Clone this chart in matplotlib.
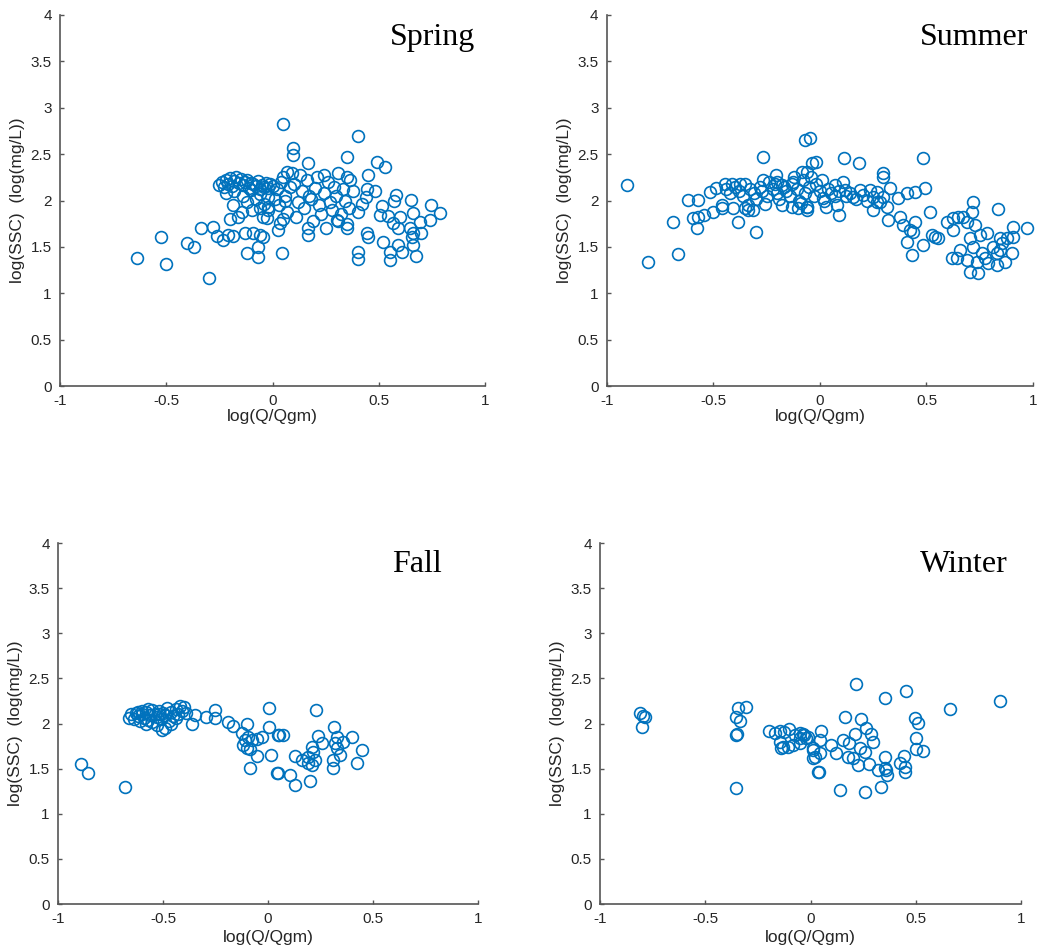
import numpy as np
import matplotlib
matplotlib.use('Agg')
import matplotlib.pyplot as plt

# ---- data ----
spring_x = [-0.637, -0.526, -0.501, -0.404, -0.368, -0.299, -0.338, -0.281, -0.263, -0.232,
            -0.208, -0.184, -0.129, -0.090, -0.059, -0.043, -0.067, -0.067, -0.121, 0.043,
            -0.184, -0.200, -0.161, -0.145, -0.098, -0.059, -0.020, -0.027, -0.043, 0.027,
            0.035, 0.051, 0.098, 0.098, 0.067, 0.168, 0.401, 0.349, 0.490, 0.529,
            0.451, 0.310, 0.349, 0.365, 0.443, 0.482, 0.581, 0.652, 0.746, 0.786,
            0.662, 0.694, 0.741, 0.514, 0.506, 0.545, 0.569, 0.592, 0.647, 0.663,
            0.655, 0.521, 0.592, 0.608, 0.553, 0.553, 0.663, 0.675, 0.443, 0.451,
            0.404, 0.404, 0.349, 0.302, 0.168, 0.168,
            -0.25, -0.24, -0.23, -0.22, -0.21, -0.20, -0.19, -0.18, -0.17, -0.16,
            -0.15, -0.14, -0.13, -0.12, -0.11, -0.10, -0.09, -0.08, -0.07, -0.06,
            -0.05, -0.04, -0.03, -0.02, -0.01, 0.00,
            -0.22, -0.18, -0.14, -0.10, -0.06, -0.02, -0.12, -0.08, -0.04, 0.06,
            0.02, 0.04, 0.06, 0.08, 0.10, 0.12, 0.14, 0.16, 0.18, 0.20,
            0.22, 0.24, 0.26, 0.28, 0.30, 0.32, 0.34, 0.36, 0.38, 0.40,
            0.42, 0.44, 0.03, 0.07, 0.11, 0.15, 0.19, 0.23, 0.27, 0.31,
            0.35, 0.13, 0.09, 0.05, 0.01, 0.17, 0.21, 0.25, 0.29, 0.33,
            0.05, -0.02, 0.24, 0.60, 0.70, 0.57]
spring_y = [1.377, 1.610, 1.312, 1.539, 1.502, 1.165, 1.703, 1.711, 1.617, 1.574,
            1.628, 1.617, 1.646, 1.646, 1.628, 1.610, 1.502, 1.388, 1.431, 1.431,
            1.951, 1.797, 1.825, 1.879, 1.898, 1.916, 1.933, 1.808, 1.825, 1.682,
            1.754, 2.825, 2.563, 2.491, 2.311, 2.401, 2.699, 2.466, 2.418, 2.364,
            2.275, 2.300, 2.257, 2.221, 2.121, 2.106, 2.059, 2.005, 1.951, 1.868,
            1.862, 1.771, 1.790, 1.941, 1.844, 1.833, 1.754, 1.700, 1.700, 1.646,
            1.610, 1.556, 1.520, 1.448, 1.448, 1.358, 1.520, 1.402, 1.646, 1.610,
            1.448, 1.366, 1.700, 1.790, 1.700, 1.628,
            2.17, 2.20, 2.15, 2.22, 2.18, 2.24, 2.16, 2.21, 2.25, 2.19,
            2.23, 2.17, 2.20, 2.22, 2.14, 2.19, 2.18, 2.16, 2.21, 2.12,
            2.17, 2.15, 2.19, 2.13, 2.18, 2.16,
            2.08, 2.10, 2.05, 2.11, 2.07, 2.04, 1.98, 2.02, 1.96, 1.99,
            2.12, 2.20, 2.05, 2.15, 2.18, 1.98, 2.10, 2.22, 2.02, 2.14,
            1.95, 2.08, 2.20, 1.90, 2.05, 1.85, 2.00, 1.92, 2.10, 1.88,
            1.96, 2.04, 1.95, 1.88, 1.82, 1.92, 1.78, 1.85, 1.98, 1.78,
            1.75, 2.28, 2.30, 2.25, 2.02, 2.05, 2.25, 1.70, 2.15, 2.12,
            1.80, 1.90, 2.28, 1.82, 1.65, 2.00]

summer_x = [-0.905, -0.806, -0.668, -0.689, -0.621, -0.571, -0.579, -0.595, -0.571, -0.545,
            -0.501, -0.461, -0.461, -0.516, -0.488, -0.446, -0.415, -0.376, -0.407, -0.383,
            -0.352, -0.337, -0.313, -0.300, -0.269, -0.266, -0.207, -0.203, -0.180, -0.133,
            -0.102, -0.062, -0.125, -0.086, -0.062, -0.070, -0.047, -0.039, -0.019, 0.113,
            0.183, 0.485, 0.294, 0.297, 0.070, 0.110, 0.117, 0.016, 0.078, 0.090,
            -0.062, 0.156, 0.188, 0.235, 0.266, 0.297, 0.329, 0.282, 0.250, 0.313,
            0.321, 0.368, 0.407, 0.446, 0.493, 0.376, 0.391, 0.446, 0.423, 0.438,
            0.407, 0.485, 0.430, 0.516, 0.524, 0.540, 0.555, 0.595, 0.626, 0.650,
            0.673, 0.720, 0.712, 0.689, 0.728, 0.626, 0.834, 0.970, 0.908, 0.908,
            0.877, 0.900, 0.704, 0.751, 0.783, 0.720, 0.759, 0.775, 0.814, 0.845,
            0.853, 0.830, 0.869, 0.830, 0.790, 0.657, 0.618, 0.642, 0.689, 0.704,
            0.743, 0.736, 0.845,
            -0.44, -0.42, -0.40, -0.38, -0.36, -0.35, -0.33, -0.31, -0.30, -0.28,
            -0.27, -0.25, -0.24, -0.22, -0.20, -0.19, -0.17, -0.16, -0.14, -0.13,
            -0.11, -0.10, -0.08, -0.07, -0.05, -0.04, -0.03, -0.02, 0.00, 0.01,
            0.02, 0.04, 0.05, 0.07, 0.09, 0.12, 0.14, 0.17, 0.20, 0.22,
            0.25, 0.27, -0.34, -0.26, -0.18, -0.09, -0.06, 0.03, -0.12, -0.21]
summer_y = [2.167, 1.340, 1.420, 1.771, 2.005, 2.005, 1.700, 1.808, 1.825, 1.844,
            1.879, 1.916, 1.951, 2.095, 2.131, 2.178, 2.178, 2.178, 1.916, 1.771,
            1.916, 1.898, 1.898, 1.664, 2.466, 2.221, 2.275, 2.203, 2.167, 1.933,
            1.916, 1.933, 2.203, 2.311, 2.311, 2.652, 2.671, 2.401, 2.418, 2.455,
            2.401, 2.455, 2.293, 2.257, 2.167, 2.203, 2.113, 2.024, 1.951, 1.844,
            1.927, 2.041, 2.113, 2.113, 2.095, 2.041, 2.131, 1.987, 1.898, 1.933,
            1.790, 2.024, 2.078, 2.095, 2.131, 1.825, 1.736, 1.771, 1.682, 1.664,
            1.556, 1.520, 1.412, 1.879, 1.628, 1.610, 1.592, 1.771, 1.808, 1.825,
            1.825, 1.987, 1.879, 1.771, 1.736, 1.682, 1.905, 1.700, 1.718, 1.610,
            1.592, 1.431, 1.592, 1.628, 1.646, 1.502, 1.431, 1.377, 1.502, 1.592,
            1.539, 1.431, 1.340, 1.305, 1.323, 1.466, 1.377, 1.377, 1.358, 1.232,
            1.215, 1.340, 1.466,
            2.12, 2.08, 2.15, 2.10, 2.05, 2.18, 2.12, 2.08, 2.02, 2.15,
            2.10, 2.05, 2.20, 2.12, 2.08, 2.02, 2.15, 2.10, 2.05, 2.18,
            2.12, 2.00, 2.22, 2.08, 2.15, 2.25, 2.05, 2.18, 2.10, 2.22,
            2.00, 2.12, 2.08, 2.05, 2.10, 2.05, 2.08, 2.02, 2.06, 2.00,
            2.04, 1.98, 1.95, 1.96, 1.95, 1.97, 1.90, 1.93, 2.25, 2.18]

fall_x = [-0.890, -0.856, -0.681, -0.348, -0.363, -0.297, -0.252, -0.252, -0.506, -0.189,
          -0.165, -0.101, -0.125, -0.110, -0.094, -0.078, -0.054, -0.030, -0.118, -0.101,
          -0.086, -0.054, -0.086, 0.006, 0.006, 0.013, 0.041, 0.049, 0.229, 0.054,
          0.073, 0.046, 0.105, 0.129, 0.200, 0.129, 0.160, 0.192, 0.208, 0.216,
          0.192, 0.208, 0.224, 0.240, 0.256, 0.314, 0.327, 0.319, 0.327, 0.343,
          0.308, 0.308, 0.359, 0.399, 0.446, 0.422,
          -0.65, -0.64, -0.63, -0.62, -0.61, -0.60, -0.59, -0.58, -0.57, -0.56,
          -0.55, -0.55, -0.54, -0.53, -0.52, -0.51, -0.50, -0.49, -0.48, -0.47,
          -0.46, -0.45, -0.44, -0.43, -0.42, -0.41, -0.40, -0.39, -0.58, -0.53,
          -0.49, -0.46, -0.60, -0.57, -0.62, -0.66, -0.52, -0.44]
fall_y = [1.551, 1.455, 1.293, 2.094, 1.994, 2.076, 2.150, 2.058, 1.928, 2.020,
          1.972, 1.994, 1.891, 1.817, 1.854, 1.817, 1.825, 1.847, 1.762, 1.725,
          1.714, 1.643, 1.510, 2.168, 1.965, 1.647, 1.448, 1.873, 2.150, 1.873,
          1.873, 1.448, 1.429, 1.319, 1.366, 1.643, 1.596, 1.632, 1.743, 1.688,
          1.559, 1.540, 1.596, 1.861, 1.781, 1.965, 1.854, 1.781, 1.725, 1.651,
          1.596, 1.510, 1.798, 1.847, 1.706, 1.566,
          2.10, 2.05, 2.12, 2.08, 2.03, 2.11, 2.06, 2.13, 2.04, 2.09,
          2.15, 2.02, 2.11, 2.07, 2.14, 2.05, 2.12, 2.09, 2.17, 2.03,
          2.13, 2.08, 2.16, 2.11, 2.19, 2.14, 2.18, 2.12, 2.00, 1.98,
          1.95, 2.00, 2.14, 2.16, 2.13, 2.06, 2.10, 2.06]

winter_x = [-0.812, -0.797, -0.784, -0.800, -0.345, -0.305, -0.353, -0.337, -0.353, -0.350,
            -0.353, -0.195, -0.171, -0.147, -0.124, -0.100, -0.076, -0.052, -0.029, -0.013,
            -0.147, -0.131, -0.139, -0.108, -0.084, -0.052, 0.011, 0.011, 0.035, -0.052,
            0.217, 0.356, 0.455, 0.664, 0.901, 0.165, 0.241, 0.494, 0.510, 0.499,
            0.499, 0.533, -0.036, -0.021, 0.051, 0.046, 0.011, 0.019, 0.046, 0.098,
            0.119, 0.154, 0.209, 0.185, 0.265, 0.288, 0.296, 0.233, 0.257, 0.177,
            0.201, 0.225, 0.280, 0.040, 0.141, 0.257, 0.333, 0.356, 0.320, 0.352,
            0.362, 0.359, 0.423, 0.442, 0.451, 0.451]
winter_y = [2.120, 2.083, 2.069, 1.958, 2.168, 2.180, 2.069, 2.031, 1.873, 1.880,
            1.282, 1.920, 1.891, 1.920, 1.909, 1.936, 1.873, 1.891, 1.873, 1.854,
            1.798, 1.743, 1.725, 1.743, 1.762, 1.781, 1.706, 1.614, 1.466, 1.836,
            2.434, 2.286, 2.364, 2.161, 2.253, 2.076, 2.050, 2.058, 2.002, 1.843,
            1.714, 1.695, 1.880, 1.836, 1.920, 1.817, 1.725, 1.632, 1.670, 1.762,
            1.670, 1.817, 1.880, 1.780, 1.947, 1.880, 1.798, 1.725, 1.688, 1.632,
            1.614, 1.540, 1.551, 1.459, 1.263, 1.245, 1.300, 1.625, 1.485, 1.504,
            1.429, 1.485, 1.566, 1.643, 1.521, 1.466]

seasons = ['Spring', 'Summer', 'Fall', 'Winter']
xs = [spring_x, summer_x, fall_x, winter_x]
ys = [spring_y, summer_y, fall_y, winter_y]
label_x = [0.553, 0.47, 0.59, 0.518]

xticks = [-1, -0.5, 0, 0.5, 1]
yticks = [0, 0.5, 1, 1.5, 2, 2.5, 3, 3.5, 4]

plt.rcParams['font.family'] = ['Liberation Sans', 'DejaVu Sans']

fig = plt.figure(figsize=(10.37, 9.48), dpi=100)
rects = [[0.0579, 0.5928, 0.4098, 0.3914],
         [0.5853, 0.5928, 0.4108, 0.3914],
         [0.0559, 0.0464, 0.4050, 0.3808],
         [0.5786, 0.0464, 0.4060, 0.3808]]

axis_col = '#555555'
text_col = '#262626'

for i in range(4):
    ax = fig.add_axes(rects[i])
    ax.plot(xs[i], ys[i], 'o', linestyle='none', markersize=8.5,
            markerfacecolor='none', markeredgecolor='#0072BD', markeredgewidth=1.2,
            clip_on=False)
    ax.set_xlim(-1, 1)
    ax.set_ylim(0, 4)
    ax.set_xticks(xticks)
    ax.set_yticks(yticks)
    ax.set_xticklabels(['%g' % t for t in xticks])
    ax.set_yticklabels(['%g' % t for t in yticks])
    for s in ['top', 'right']:
        ax.spines[s].set_visible(False)
    for s in ['left', 'bottom']:
        ax.spines[s].set_color(axis_col)
        ax.spines[s].set_linewidth(1.2)
    ax.tick_params(direction='in', length=3, width=1, color=axis_col,
                   labelcolor=text_col, labelsize=11, pad=6)
    ax.set_xlabel('log(Q/Qgm)', fontsize=12.5, color=text_col)
    ax.set_ylabel('log(SSC)  (log(mg/L))', fontsize=12.5, color=text_col)
    ax.yaxis.set_label_coords(-0.1, 0.5)
    if i < 2:
        ax.xaxis.set_label_coords(0.5, -0.083)
    else:
        ax.xaxis.set_label_coords(0.5, -0.092)
    ax.xaxis.label.set_va('center')
    ax.yaxis.label.set_va('center')
    ax.text(label_x[i], 3.68, seasons[i], fontsize=23, family='Liberation Serif',
            color='black', ha='left', va='baseline')

fig.savefig('out.png', dpi=100)
